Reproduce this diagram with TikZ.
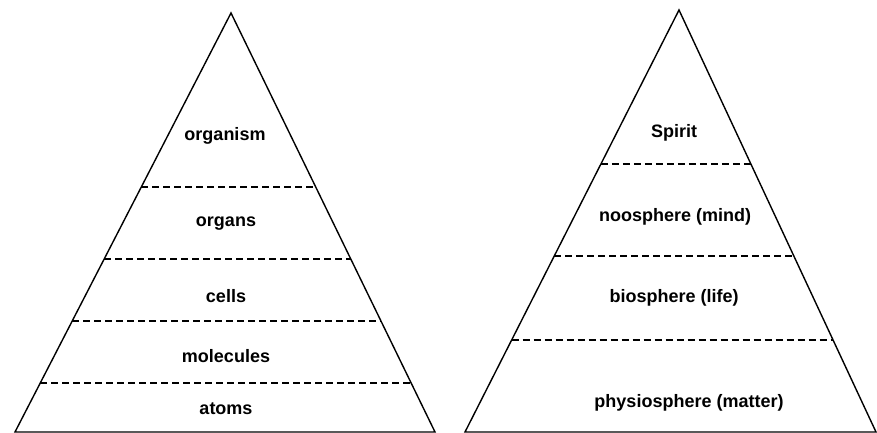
\documentclass[tikz,border=0pt]{standalone}
\usepackage{fontspec}
\setmainfont{Liberation Sans}
\usetikzlibrary{calc}
\tikzset{
  side/.style={line width=1.4pt, line join=miter},
  layer/.style={line width=1.1pt, dash pattern=on 7pt off 4pt},
  lbl/.style={anchor=base, inner sep=0pt, font=\bfseries\fontsize{18}{20}\selectfont}
}
\begin{document}
\begin{tikzpicture}[x=1pt,y=-1pt]
\useasboundingbox (0,0) rectangle (877,433);
% left pyramid
\coordinate (LA) at (231,13);
\coordinate (LL) at (15,432);
\coordinate (LR) at (435,432);
\draw[side] (LL) -- (LA) -- (LR) -- cycle;
\foreach \t [count=\i] in {0.4153,0.587,0.735,0.883}{
  \coordinate (Ll\i) at ($(LA)!\t!(LL)$);
  \coordinate (Lr\i) at ($(LA)!\t!(LR)$);
  \draw[layer] (Ll\i) -- (Lr\i);
}
\node[lbl] (organism) at (225,140) {organism};
\node[lbl] (organs) at (226,226) {organs};
\node[lbl] (cells) at (226,302) {cells};
\node[lbl] (molecules) at (226,362) {molecules};
\node[lbl] (atoms) at (226,414) {atoms};
% right pyramid
\coordinate (RA) at (679,10);
\coordinate (RL) at (465,432);
\coordinate (RR) at (876,432);
\draw[side] (RL) -- (RA) -- (RR) -- cycle;
\foreach \t [count=\i] in {0.365,0.583,0.782}{
  \coordinate (Rl\i) at ($(RA)!\t!(RL)$);
  \coordinate (Rr\i) at ($(RA)!\t!(RR)$);
  \draw[layer] (Rl\i) -- (Rr\i);
}
\node[lbl] (spirit) at (674,137) {Spirit};
\node[lbl] (noo) at (675,221) {noosphere (mind)};
\node[lbl] (bio) at (674,302) {biosphere (life)};
\node[lbl] (phys) at (689,407) {physiosphere (matter)};
\end{tikzpicture}
\end{document}
